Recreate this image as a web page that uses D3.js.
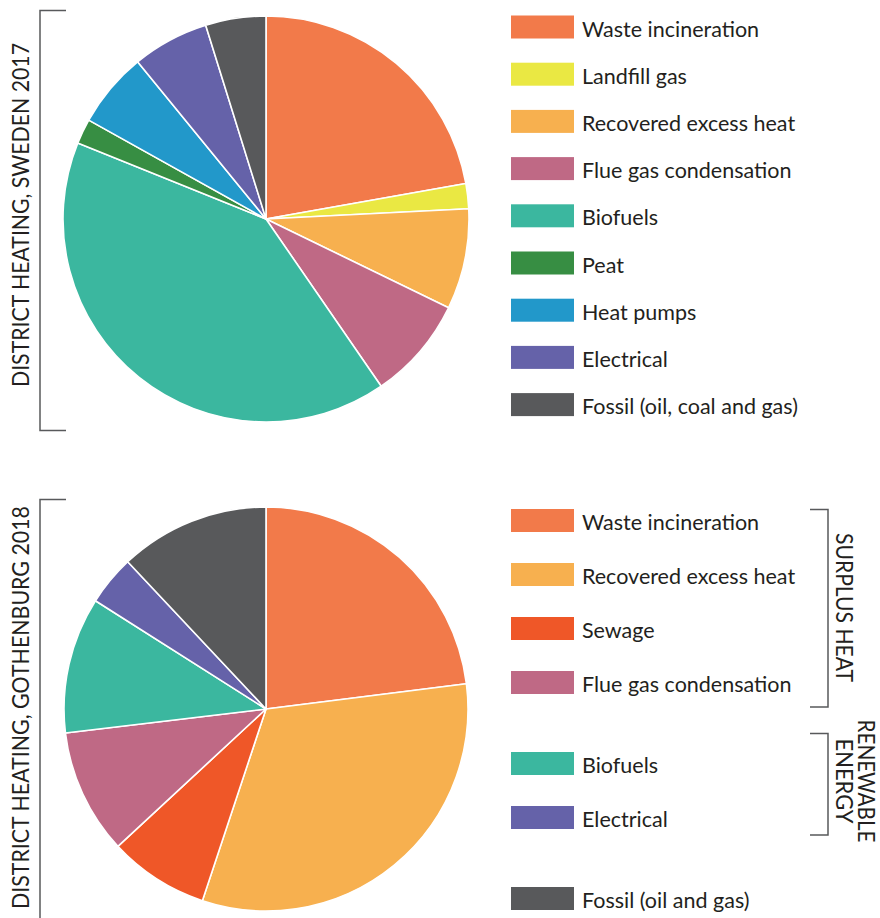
<!DOCTYPE html>
<html>
<head>
<meta charset="utf-8">
<script src="https://cdn.jsdelivr.net/npm/d3@7"></script>
<style>
  html, body { margin: 0; padding: 0; background: #fff; }
  svg text { font-family: Lato, "Noto Sans", sans-serif; fill: #231f20; }
</style>
</head>
<body>
<svg id="chart" width="880" height="918"></svg>
<script>
// ---- Data ----
const swedenCategories = ["Waste incineration", "Landfill gas", "Recovered excess heat", "Flue gas condensation", "Biofuels", "Peat", "Heat pumps", "Electrical", "Fossil (oil, coal and gas)"];
const swedenValues = [22.2, 2.0, 8.0, 8.2, 40.7, 2.0, 6.0, 6.1, 4.8];
const swedenColors = ["#f27a4a", "#eae843", "#f7b04f", "#bf6985", "#3bb79f", "#378e43", "#2298ca", "#6562a9", "#58595b"];

const gothCategories = ["Waste incineration", "Recovered excess heat", "Sewage", "Flue gas condensation", "Biofuels", "Electrical", "Fossil (oil and gas)"];
const gothValues = [23.0, 32.1, 8.0, 10.0, 10.9, 4.0, 12.0];
const gothColors = ["#f27a4a", "#f7b04f", "#ef5728", "#bf6985", "#3bb79f", "#6562a9", "#58595b"];
const gothLegendSlots = [0, 1, 2, 3, 4.5, 5.5, 7];

const titles = ["DISTRICT HEATING, SWEDEN 2017", "DISTRICT HEATING, GOTHENBURG 2018"];
const groupLabels = [["SURPLUS HEAT"], ["RENEWABLE", "ENERGY"]];

// ---- Drawing ----
const svg = d3.select("#chart");
const bracketColor = "#58595b";

function drawPie(cx, cy, r, values, colors) {
  const pie = d3.pie().sort(null).value(d => d);
  const arc = d3.arc().innerRadius(0).outerRadius(r);
  const g = svg.append("g").attr("transform", `translate(${cx},${cy})`);
  g.selectAll("path").data(pie(values)).join("path")
    .attr("d", arc)
    .attr("fill", (d, i) => colors[i])
    .attr("stroke", "#fff")
    .attr("stroke-width", 1.6)
    .attr("stroke-linejoin", "round");
}

function drawLegend(x, yTop, step, slots, cats, colors) {
  const g = svg.append("g");
  const y = d3.scaleLinear().domain([0, 1]).range([yTop, yTop + step]);
  const items = g.selectAll("g").data(cats).join("g")
    .attr("transform", (d, i) => `translate(${x},${y(slots[i])})`);
  items.append("rect").attr("width", 63).attr("height", 23).attr("fill", (d, i) => colors[i]);
  items.append("text").attr("x", 71).attr("y", 21).attr("font-size", 21.5).text(d => d);
}

function leftTitle(text, yTop, yBot, closed, cy, len) {
  svg.append("path")
    .attr("d", closed ? `M66,${yTop}H40V${yBot}H66` : `M66,${yTop}H40V${yBot}`)
    .attr("fill", "none").attr("stroke", bracketColor).attr("stroke-width", 1.5);
  svg.append("text")
    .attr("transform", `translate(28.5,${cy}) rotate(-90)`)
    .attr("text-anchor", "middle")
    .attr("font-size", 23)
    .attr("textLength", len)
    .attr("lengthAdjust", "spacingAndGlyphs")
    .text(text);
}

// Sweden pie
drawPie(266, 219, 203, swedenValues, swedenColors);
drawLegend(511, 15.5, 47.2, d3.range(swedenCategories.length), swedenCategories, swedenColors);
leftTitle(titles[0], 10.5, 430.5, true, 215, 344);

// Gothenburg pie
drawPie(266, 709, 202, gothValues, gothColors);
drawLegend(511, 509, 54, gothLegendSlots, gothCategories, gothColors);
leftTitle(titles[1], 499.5, 930, false, 707.5, 403);

// Right brackets
function rightBracket(y0, y1) {
  svg.append("path")
    .attr("d", `M810,${y0}H828V${y1}H810`)
    .attr("fill", "none").attr("stroke", bracketColor).attr("stroke-width", 1.5);
}
rightBracket(509.5, 707);
rightBracket(733.5, 835);

svg.append("text")
  .attr("transform", `translate(835.5,607.5) rotate(90)`)
  .attr("text-anchor", "middle")
  .attr("font-size", 24)
  .attr("textLength", 149)
  .attr("lengthAdjust", "spacingAndGlyphs")
  .text(groupLabels[0][0]);

const renLens = [123, 85];
const ren = svg.append("g").attr("transform", `translate(835.5,781) rotate(90)`);
ren.selectAll("text").data(groupLabels[1]).join("text")
  .attr("x", 0)
  .attr("y", (d, i) => (i - (groupLabels[1].length - 1)) * 22.5)
  .attr("text-anchor", "middle")
  .attr("font-size", 23)
  .attr("textLength", (d, i) => renLens[i])
  .attr("lengthAdjust", "spacingAndGlyphs")
  .text(d => d);
</script>
</body>
</html>
